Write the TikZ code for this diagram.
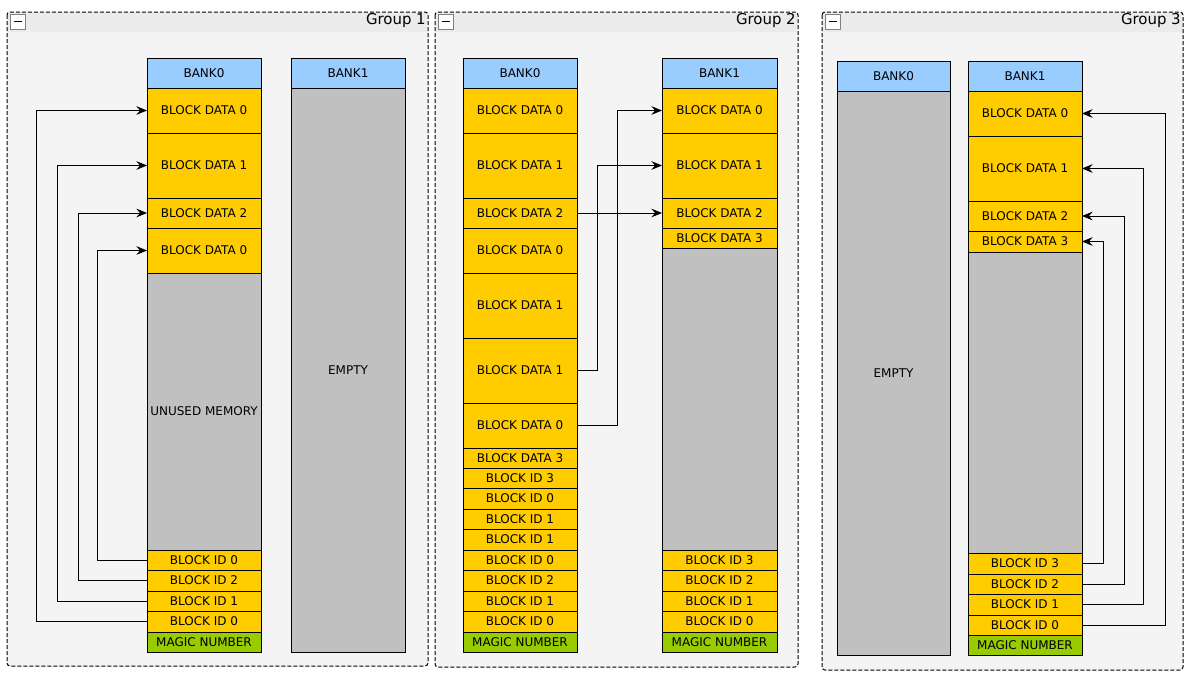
\documentclass[tikz,border=0pt]{standalone}
\usepackage{fontspec}
\setmainfont{DejaVu Sans}
\usetikzlibrary{arrows.meta}
\definecolor{bankblue}{HTML}{99CCFF}
\definecolor{datayel}{HTML}{FFCC00}
\definecolor{freegray}{HTML}{C0C0C0}
\definecolor{magicgrn}{HTML}{99CC00}
\definecolor{grpbody}{HTML}{F4F4F4}
\definecolor{grphead}{HTML}{EBEBEB}
\definecolor{iconline}{HTML}{808080}
\newcommand\cell[7]{\node[cellbox, fill=#6, minimum width={(#4-#2)*0.75pt}, minimum height={(#5-#3)*0.75pt}] (#1) at ({(#2+#4)/2},{(#3+#5)/2}) {#7};}
\newcommand\grp[6]{%
  \fill[grpbody, rounded corners=2.25pt] (#2,#3) rectangle (#4,#5);
  \fill[grphead] (#2+1,#3+1) rectangle (#4-1,#3+20);
  \draw[grpframe] (#2,#3) rectangle (#4,#5);
  \node[minusbox] (#1m) at (#2+10.5,#3+9.5) {};
  \draw[line width=1.3pt] (#1m.center) ++(-4,0) -- ++(8,0);
  \node[grptitle, anchor=east] (#1t) at (#4-2,#3+9) {#6};}
\begin{document}
\begin{tikzpicture}[x=0.75pt,y=-0.75pt,
  cellbox/.style={draw=black, line width=0.75pt, inner sep=0pt, outer sep=0pt, text=black, font=\fontsize{9}{10}\selectfont},
  grpframe/.style={draw=black, line width=0.75pt, dash pattern=on 3pt off 1.5pt, rounded corners=2.25pt},
  minusbox/.style={draw=iconline, fill=white, line width=0.75pt, minimum size=11.25pt, inner sep=0pt},
  grptitle/.style={inner sep=0pt, text=black, font=\fontsize{11.2}{13}\selectfont},
  arr/.style={draw=black, line width=0.75pt, -{Stealth[length=8pt,width=6.5pt,inset=2.8pt]}}]
\useasboundingbox (0,0) rectangle (1193,678);
\fill[white] (0,0) rectangle (1193,678);
% groups
\grp{gA}{7}{12}{428}{666}{Group 1}
\grp{gB}{435}{12}{798}{667}{Group 2}
\grp{gC}{822}{12}{1183}{670}{Group 3}
% ---------- Group 1
\cell{aah}{147}{58}{261}{88}{bankblue}{BANK0}
\cell{aad0}{147}{88}{261}{133}{datayel}{BLOCK DATA 0}
\cell{aad1}{147}{133}{261}{198}{datayel}{BLOCK DATA 1}
\cell{aad2}{147}{198}{261}{228}{datayel}{BLOCK DATA 2}
\cell{aad0b}{147}{228}{261}{273}{datayel}{BLOCK DATA 0}
\cell{aau}{147}{273}{261}{550}{freegray}{UNUSED MEMORY}
\cell{aai0}{147}{550}{261}{570}{datayel}{BLOCK ID 0}
\cell{aai2}{147}{570}{261}{591}{datayel}{BLOCK ID 2}
\cell{aai1}{147}{591}{261}{611}{datayel}{BLOCK ID 1}
\cell{aai0b}{147}{611}{261}{632}{datayel}{BLOCK ID 0}
\cell{aam}{147}{632}{261}{652}{magicgrn}{MAGIC NUMBER}
\cell{abh}{291}{58}{405}{88}{bankblue}{BANK1}
\cell{abe}{291}{88}{405}{652}{freegray}{EMPTY}
\coordinate (ax1) at (36,0);
\coordinate (ax2) at (57,0);
\coordinate (ax3) at (78,0);
\coordinate (ax4) at (97,0);
\draw[arr] (aai0.west) -- (aai0.west -| ax4) |- (aad0b.west);
\draw[arr] (aai2.west) -- (aai2.west -| ax3) |- (aad2.west);
\draw[arr] (aai1.west) -- (aai1.west -| ax2) |- (aad1.west);
\draw[arr] (aai0b.west) -- (aai0b.west -| ax1) |- (aad0.west);
% ---------- Group 2
\cell{bah}{463}{58}{577}{88}{bankblue}{BANK0}
\cell{bad0}{463}{88}{577}{133}{datayel}{BLOCK DATA 0}
\cell{bad1}{463}{133}{577}{198}{datayel}{BLOCK DATA 1}
\cell{bad2}{463}{198}{577}{228}{datayel}{BLOCK DATA 2}
\cell{bad0b}{463}{228}{577}{273}{datayel}{BLOCK DATA 0}
\cell{bad1b}{463}{273}{577}{338}{datayel}{BLOCK DATA 1}
\cell{bad1c}{463}{338}{577}{403}{datayel}{BLOCK DATA 1}
\cell{bad0c}{463}{403}{577}{448}{datayel}{BLOCK DATA 0}
\cell{bad3}{463}{448}{577}{468}{datayel}{BLOCK DATA 3}
\cell{bai3}{463}{468}{577}{488}{datayel}{BLOCK ID 3}
\cell{bai0}{463}{488}{577}{509}{datayel}{BLOCK ID 0}
\cell{bai1}{463}{509}{577}{529}{datayel}{BLOCK ID 1}
\cell{bai1b}{463}{529}{577}{550}{datayel}{BLOCK ID 1}
\cell{bai0b}{463}{550}{577}{570}{datayel}{BLOCK ID 0}
\cell{bai2}{463}{570}{577}{591}{datayel}{BLOCK ID 2}
\cell{bai1c}{463}{591}{577}{611}{datayel}{BLOCK ID 1}
\cell{bai0c}{463}{611}{577}{632}{datayel}{BLOCK ID 0}
\cell{bam}{463}{632}{577}{652}{magicgrn}{MAGIC NUMBER}
\cell{bbh}{662}{58}{777}{88}{bankblue}{BANK1}
\cell{bbd0}{662}{88}{777}{133}{datayel}{BLOCK DATA 0}
\cell{bbd1}{662}{133}{777}{198}{datayel}{BLOCK DATA 1}
\cell{bbd2}{662}{198}{777}{228}{datayel}{BLOCK DATA 2}
\cell{bbd3}{662}{228}{777}{248}{datayel}{BLOCK DATA 3}
\cell{bbf}{662}{248}{777}{550}{freegray}{}
\cell{bbi3}{662}{550}{777}{570}{datayel}{BLOCK ID 3}
\cell{bbi2}{662}{570}{777}{591}{datayel}{BLOCK ID 2}
\cell{bbi1}{662}{591}{777}{611}{datayel}{BLOCK ID 1}
\cell{bbi0}{662}{611}{777}{632}{datayel}{BLOCK ID 0}
\cell{bbm}{662}{632}{777}{652}{magicgrn}{MAGIC NUMBER}
\coordinate (bx1) at (597,0);
\coordinate (bx2) at (617,0);
\draw[arr] (bad2.east) -- (bbd2.west);
\draw[arr] (bad1c.east) -- (bad1c.east -| bx1) |- (bbd1.west);
\draw[arr] (bad0c.east) -- (bad0c.east -| bx2) |- (bbd0.west);
% ---------- Group 3
\cell{cah}{837}{61}{950}{91}{bankblue}{BANK0}
\cell{cae}{837}{91}{950}{655}{freegray}{EMPTY}
\cell{cbh}{968}{61}{1082}{91}{bankblue}{BANK1}
\cell{cbd0}{968}{91}{1082}{136}{datayel}{BLOCK DATA 0}
\cell{cbd1}{968}{136}{1082}{201}{datayel}{BLOCK DATA 1}
\cell{cbd2}{968}{201}{1082}{231}{datayel}{BLOCK DATA 2}
\cell{cbd3}{968}{231}{1082}{252}{datayel}{BLOCK DATA 3}
\cell{cbf}{968}{252}{1082}{553}{freegray}{}
\cell{cbi3}{968}{553}{1082}{574}{datayel}{BLOCK ID 3}
\cell{cbi2}{968}{574}{1082}{594}{datayel}{BLOCK ID 2}
\cell{cbi1}{968}{594}{1082}{615}{datayel}{BLOCK ID 1}
\cell{cbi0}{968}{615}{1082}{635}{datayel}{BLOCK ID 0}
\cell{cbm}{968}{635}{1082}{655}{magicgrn}{MAGIC NUMBER}
\coordinate (cx1) at (1103,0);
\coordinate (cx2) at (1124,0);
\coordinate (cx3) at (1143,0);
\coordinate (cx4) at (1165,0);
\draw[arr] (cbi3.east) -- (cbi3.east -| cx1) |- (cbd3.east);
\draw[arr] (cbi2.east) -- (cbi2.east -| cx2) |- (cbd2.east);
\draw[arr] (cbi1.east) -- (cbi1.east -| cx3) |- (cbd1.east);
\draw[arr] (cbi0.east) -- (cbi0.east -| cx4) |- (cbd0.east);
\end{tikzpicture}
\end{document}
